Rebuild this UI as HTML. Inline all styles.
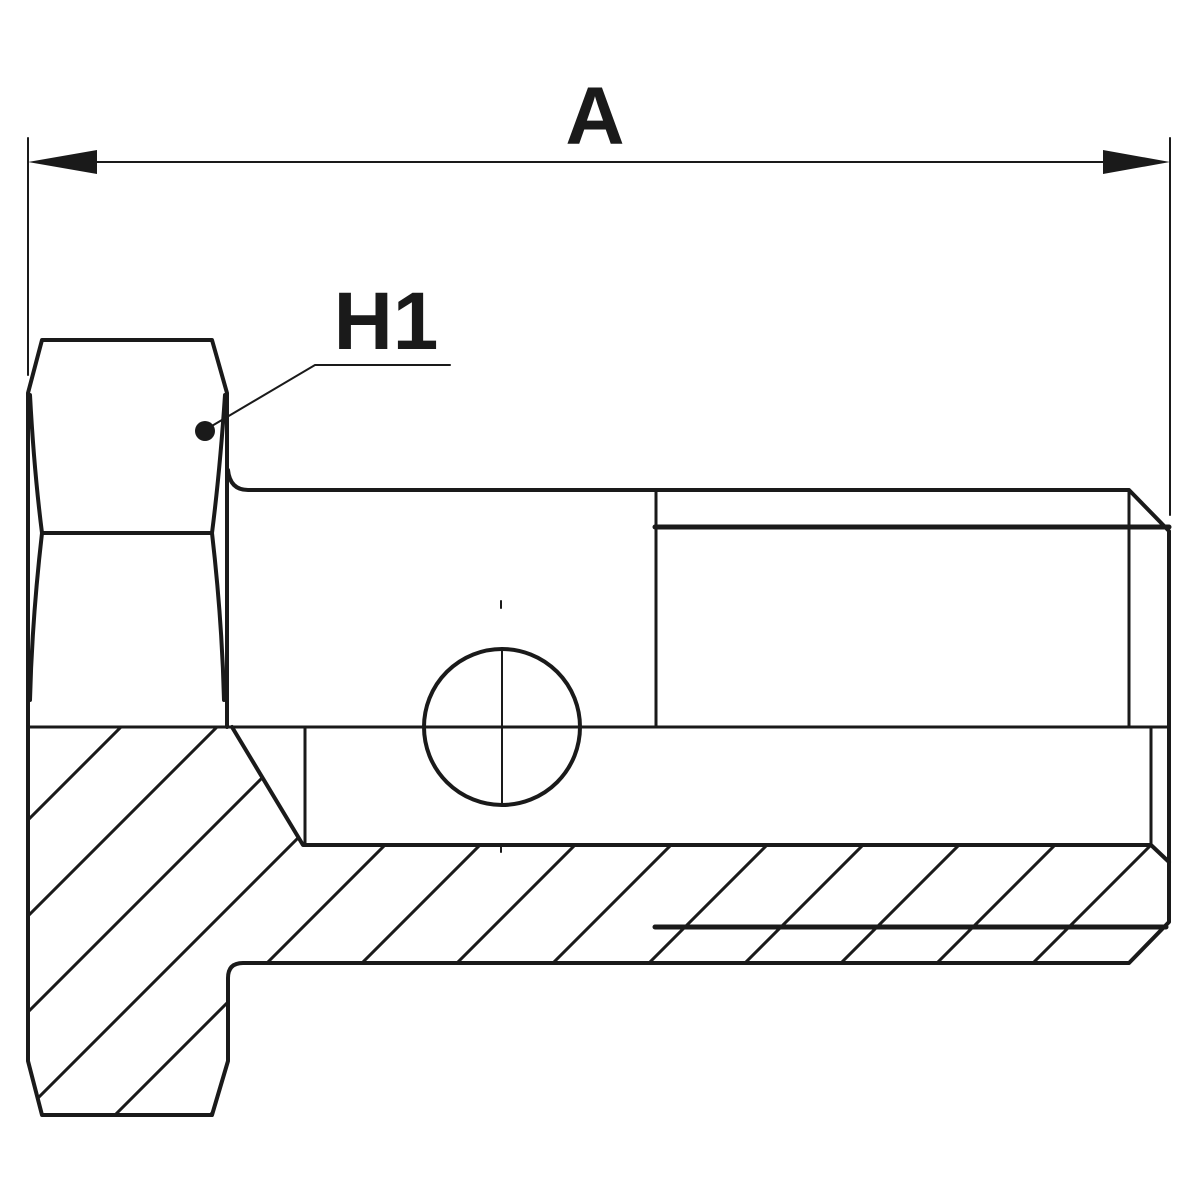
<!DOCTYPE html>
<html><head><style>html,body{margin:0;padding:0;background:#fff;width:1200px;height:1200px;overflow:hidden;position:relative}svg{display:block;position:absolute;left:0;top:0}</style></head><body>
<svg width="1200" height="1200" viewBox="0 0 1200 1200" xmlns="http://www.w3.org/2000/svg">
<defs><clipPath id="sec"><path d="M28,727 L228,727 L232,727 L303,845 L1151,845 L1169,862 L1169,922 L1129,963 L243,963 Q228,963 228,978 L228,1061 L212,1115 L42,1115 L28,1061 Z"/></clipPath></defs>
<g stroke="#1a1a1a" fill="none" stroke-linecap="round">
<line x1="28" y1="138" x2="28" y2="375" stroke-width="2"/>
<line x1="1170" y1="138" x2="1170" y2="515" stroke-width="2"/>
<line x1="90" y1="162" x2="1110" y2="162" stroke-width="2"/>
<g clip-path="url(#sec)" stroke-width="3">
<line x1="0" y1="848" x2="848" y2="0"/>
<line x1="0" y1="944" x2="944" y2="0"/>
<line x1="0" y1="1040" x2="1040" y2="0"/>
<line x1="0" y1="1136" x2="1136" y2="0"/>
<line x1="30" y1="1200" x2="1200" y2="30"/>
<line x1="125" y1="1200" x2="1200" y2="125"/>
<line x1="220" y1="1200" x2="1200" y2="220"/>
<line x1="316" y1="1200" x2="1200" y2="316"/>
<line x1="412" y1="1200" x2="1200" y2="412"/>
<line x1="508" y1="1200" x2="1200" y2="508"/>
<line x1="604" y1="1200" x2="1200" y2="604"/>
<line x1="700" y1="1200" x2="1200" y2="700"/>
<line x1="796" y1="1200" x2="1200" y2="796"/>
<line x1="892" y1="1200" x2="1200" y2="892"/>
</g>
<g stroke-width="4" stroke-linejoin="round">
<path d="M28,727 L28,393 L42,340 L212,340 L227,393 L227,727"/>
<path d="M30,395 Q34,470 42,533 L212,533 Q220,470 225,395"/>
<path d="M42,533 Q32,620 30,700"/>
<path d="M212,533 Q222,620 224,700"/>
<path d="M228,470 Q230,490 248,490 L1129,490 L1169,531 L1169,922 L1129,963 L243,963 Q228,963 228,978 L228,1061 L212,1115 L42,1115 L28,1061 L28,727"/>
<line x1="28" y1="727" x2="1169" y2="727" stroke-width="3"/>
<line x1="1129" y1="490" x2="1129" y2="727" stroke-width="3"/>
<line x1="656" y1="490" x2="656" y2="727" stroke-width="3"/>
<line x1="655" y1="527" x2="1169" y2="527" stroke-width="5"/>
<line x1="655" y1="927" x2="1166" y2="927" stroke-width="5"/>
<path d="M232,727 L303,845 L1151,845 L1169,862" />
<line x1="305" y1="727" x2="305" y2="845" stroke-width="3"/>
<line x1="1151" y1="727" x2="1151" y2="845" stroke-width="3"/>
<circle cx="502" cy="727" r="78" stroke-width="4"/>
</g>
<line x1="502" y1="648" x2="502" y2="805" stroke-width="2"/>
<line x1="424" y1="727" x2="580" y2="727" stroke-width="2"/>
<line x1="501" y1="601" x2="501" y2="608" stroke-width="2"/>
<line x1="501" y1="846" x2="501" y2="852" stroke-width="2"/>
<polyline points="205,430 315,365 450,365" stroke-width="2"/>
</g>
<circle cx="205" cy="431" r="10" fill="#1a1a1a"/>
<polygon points="28,162 97,150 97,174" fill="#1a1a1a"/>
<polygon points="1170,162 1103,150 1103,174" fill="#1a1a1a"/>
<text x="595" y="144" text-anchor="middle" font-family="Liberation Sans, sans-serif" font-weight="bold" font-size="82" fill="#1a1a1a">A</text>
<text x="386" y="349" text-anchor="middle" font-family="Liberation Sans, sans-serif" font-weight="bold" font-size="82" fill="#1a1a1a">H1</text>
</svg>
</body></html>
